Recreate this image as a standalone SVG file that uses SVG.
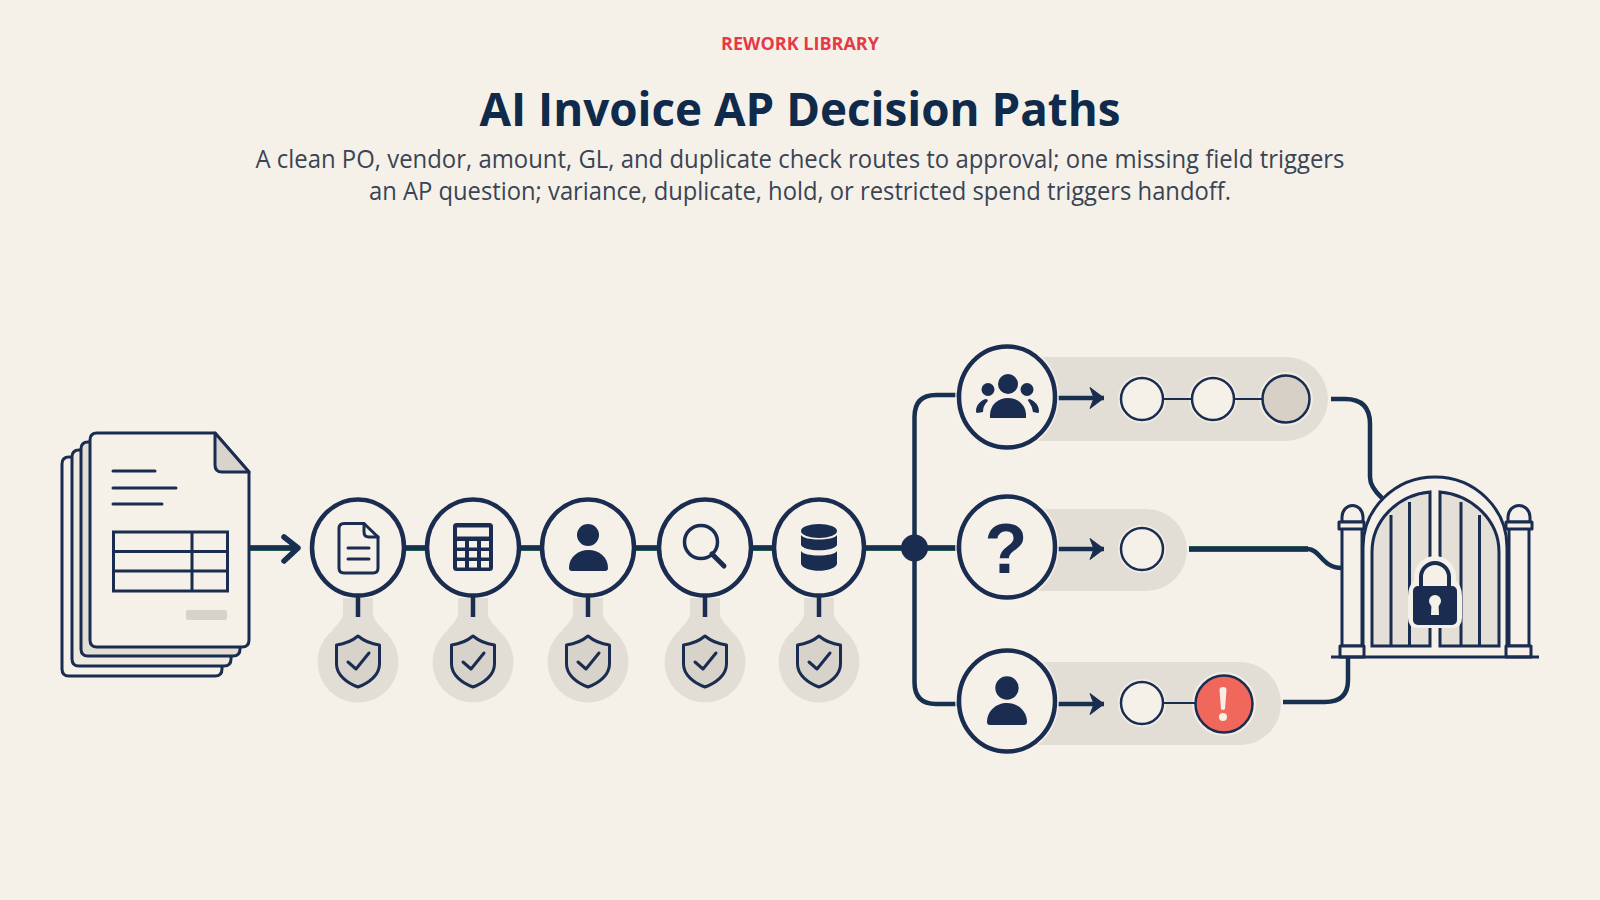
<svg xmlns="http://www.w3.org/2000/svg" width="1600" height="900" viewBox="0 0 1600 900">
<style>
.line{fill:none;stroke:#17304f;stroke-width:4.5;stroke-linecap:butt;stroke-linejoin:round}
.tint{fill:none;stroke:#2b6a52;stroke-width:5.800}
.thin{fill:none;stroke:#1a2d50;stroke-width:2}
.ink{fill:none;stroke:#1a2d50;stroke-width:3;stroke-linejoin:round;stroke-linecap:round}
.solid{fill:#1a2d50;stroke:none}
.ring{fill:#f5f1e9;stroke:#1a2d50;stroke-width:4.500}
.dot{fill:#f5f1e9;stroke:#1a2d50;stroke-width:2.5}
.halo{fill:#f5f1e9;opacity:.75}
.soft{fill:#e3ded5;stroke:none}
.paper{fill:#f5f1e9;stroke:#1a2d50;stroke-width:3;stroke-linejoin:round}
.bar{fill:none;stroke:#1a2d50;stroke-width:3}
text{font-family:"Open Sans","Noto Sans","Liberation Sans",sans-serif;text-anchor:middle}
</style>
<defs>
<marker id="head" markerUnits="userSpaceOnUse" markerWidth="22" markerHeight="26" refX="15" refY="12" orient="auto" overflow="visible">
<path d="M1 1.500 L15 12 L1 22.500 L5 12 Z" fill="#1a2d50" stroke="#1a2d50" stroke-width="1" stroke-linejoin="round"/>
</marker>
<g id="check-badge">
<circle class="soft" cx="0" cy="2" r="40.500"/>
<path class="soft" d="M-15 -62 H15 V-46 Q15 -40 26 -30 H-26 Q-15 -40 -15 -46Z"/>
<path d="M0 -24 C6 -19 14 -16 21.500 -15 V4 C21.500 15 11 23 0 27 C-11 23 -21.500 15 -21.500 4 V-15 C-14 -16 -6 -19 0 -24Z" fill="#d7d2ca" stroke="#1a2d50" stroke-width="3" stroke-linejoin="round"/>
<path d="M-10 2 L-2 9 L11 -7" fill="none" stroke="#1a2d50" stroke-width="3" stroke-linecap="round" stroke-linejoin="round"/>
<path d="M0 -66 V-43" fill="none" stroke="#1a2d50" stroke-width="4.500"/>
</g>
</defs>

<rect width="1600" height="900" fill="#f5f1e9"/>

<text x="800" y="50" font-size="17.500" font-weight="700" fill="#e63946" textLength="158" lengthAdjust="spacingAndGlyphs">REWORK LIBRARY</text>
<text x="800" y="126" font-size="47" font-weight="700" fill="#0f2a4a" textLength="641" lengthAdjust="spacingAndGlyphs">AI Invoice AP Decision Paths</text>
<text x="800" y="168" font-size="25" fill="#3a4454" textLength="1089" lengthAdjust="spacingAndGlyphs">A clean PO, vendor, amount, GL, and duplicate check routes to approval; one missing field triggers</text>
<text x="800" y="200" font-size="25" fill="#3a4454" textLength="862" lengthAdjust="spacingAndGlyphs">an AP question; variance, duplicate, hold, or restricted spend triggers handoff.</text>

<!-- route bands behind the decision rows -->
<g id="bands">
<rect class="soft" x="990" y="357" width="338" height="84" rx="42"/>
<rect class="soft" x="990" y="509" width="197" height="82" rx="41"/>
<rect class="soft" x="990" y="662" width="291" height="83" rx="41"/>
</g>

<g id="connectors">
<path class="tint" d="M249 548 H292 M358 548 H1007 M1189 549 H1308"/>
<path class="line" d="M249 548 H296"/>
<path d="M284 537 L298 548 L284 561" fill="none" stroke="#17304f" stroke-width="5.500" stroke-linecap="round" stroke-linejoin="round"/>
<path class="line" d="M358 548 H1007"/>
<path class="line" d="M1007 395 H936 Q914.500 395 914.500 417 V682 Q914.500 704 936 704 H1007"/>
<path class="line" d="M1058 398 H1104" marker-end="url(#head)"/>
<path class="line" d="M1058 549 H1104" marker-end="url(#head)"/>
<path class="line" d="M1058 704 H1104" marker-end="url(#head)"/>
<path class="line" d="M1331 399 H1345 Q1370 399 1370 424 V477 Q1370 487 1382 498"/>
<path class="line" d="M1189 549 H1308 C1320 549 1322 568 1342 568"/>
<path class="line" d="M1283 702 H1325 Q1348 702 1348 680 V657"/>
</g>

<g id="invoice-stack">
<path d="M100 457 H69 Q62 457 62 464 V669 Q62 676 69 676 H215 Q222 676 222 669 V650 H100Z" fill="#f5f1e9" stroke="#1a2d50" stroke-width="3" stroke-linejoin="round"/>
<path d="M100 450 H79 Q72 450 72 457 V659 Q72 666 79 666 H224 Q231 666 231 659 V640 H100Z" fill="#efe9df" stroke="#1a2d50" stroke-width="3" stroke-linejoin="round"/>
<path d="M100 442 H88 Q81 442 81 449 V649 Q81 656 88 656 H233 Q240 656 240 649 V630 H100Z" fill="#e3ded5" stroke="#1a2d50" stroke-width="3" stroke-linejoin="round"/>
<path class="paper" d="M97 433 H215 L249 472 V640 Q249 647 242 647 H97 Q90 647 90 640 V440 Q90 433 97 433Z"/>
<path d="M215 433 L249 472 H222 Q215 472 215 465Z" fill="#d9d4cb" stroke="#1a2d50" stroke-width="3" stroke-linejoin="round"/>
<path class="ink" d="M113 471 H155 M113 488 H176 M113 504 H162"/>
<rect class="bar" x="113.500" y="532" width="114" height="59" stroke-width="2.500"/>
<path class="bar" d="M113 551.500 H227 M113 571 H227 M192 532 V591" stroke-width="2.500"/>
<rect x="186" y="610" width="41" height="10" rx="2" fill="#d7d2ca"/>
</g>

<g id="check-document">
<use href="#check-badge" x="358" y="660"/>
<ellipse class="ring" cx="358" cy="547.500" rx="46" ry="48"/>
<path class="ink" d="M344 523.500 H364 L378 537 V568 Q378 573 373 573 H344 Q339 573 339 568 V528.500 Q339 523.500 344 523.500Z"/>
<path class="ink" d="M364 523.500 V532 Q364 537 369 537 H378" stroke-width="2.500"/>
<path class="ink" d="M348 548 H369 M348 559 H369" stroke-width="2.500"/>
</g>

<g id="check-amount">
<use href="#check-badge" x="473" y="660"/>
<ellipse class="ring" cx="473" cy="547.500" rx="46" ry="48"/>
<rect class="solid" x="453" y="523" width="40" height="48" rx="3.500"/>
<rect x="457" y="527.500" width="32" height="9" fill="#f5f1e9"/>
<g fill="#f5f1e9">
<rect x="457" y="541" width="8" height="6.500"/><rect x="469" y="541" width="8" height="6.500"/><rect x="481" y="541" width="8" height="6.500"/>
<rect x="457" y="551" width="8" height="6.500"/><rect x="469" y="551" width="8" height="6.500"/><rect x="481" y="551" width="8" height="6.500"/>
<rect x="457" y="561" width="8" height="6.500"/><rect x="469" y="561" width="8" height="6.500"/><rect x="481" y="561" width="8" height="6.500"/>
</g>
</g>

<g id="check-vendor">
<use href="#check-badge" x="588" y="660"/>
<ellipse class="ring" cx="588" cy="547.500" rx="46" ry="48"/>
<circle class="solid" cx="588" cy="535" r="11"/>
<path class="solid" d="M569 568 C569 557 578 550 588.500 550 C599 550 608 557 608 568 Q608 571 605 571 H572 Q569 571 569 568Z"/>
</g>

<g id="check-lookup">
<use href="#check-badge" x="705" y="660"/>
<ellipse class="ring" cx="705" cy="547.500" rx="46" ry="48"/>
<circle cx="701" cy="542" r="16.500" fill="none" stroke="#1a2d50" stroke-width="3.500"/>
<path d="M712 554 L724 566" fill="none" stroke="#1a2d50" stroke-width="5" stroke-linecap="round"/>
</g>

<g id="check-ledger">
<use href="#check-badge" x="819" y="660"/>
<ellipse class="ring" cx="819" cy="547.500" rx="45" ry="48"/>
<ellipse class="solid" cx="819" cy="531" rx="18" ry="7"/>
<path class="solid" d="M801 535 C804 541 834 541 837 535 V545 C834 552 804 552 801 545Z"/>
<path class="solid" d="M801 551 C804 557 834 557 837 551 V564 C834 573 804 573 801 564Z"/>
</g>

<g id="junction"><circle class="solid" cx="914.500" cy="548" r="13.500"/></g>

<g id="team-review">
<ellipse class="halo" cx="1007" cy="397" rx="52" ry="55"/>
<ellipse class="ring" cx="1007" cy="397" rx="48" ry="50.500"/>
<circle class="solid" cx="1008" cy="384" r="10"/>
<circle class="solid" cx="988" cy="389.500" r="6.500"/>
<circle class="solid" cx="1027" cy="389.500" r="6.500"/>
<path class="solid" d="M990 415 C990 405 998 398 1008 398 C1018 398 1026 405 1026 415 V418 H990Z"/>
<path class="solid" d="M976 411 C976 405 981 400 986 399 Q989 400 987 402 Q983 406 983 412 L977 413 Q976 413 976 411Z"/>
<path class="solid" d="M1039 411 C1039 405 1034 400 1029 399 Q1027 400 1029 402 Q1032 406 1033 412 L1038 413 Q1039 413 1039 411Z"/>
<circle class="halo" cx="1142" cy="399" r="24"/>
<circle class="halo" cx="1213" cy="399" r="24"/>
<circle class="halo" cx="1286" cy="399" r="27"/>
<path class="thin" d="M1163 399 H1192 M1234 399 H1262"/>
<circle class="dot" cx="1142" cy="399" r="21"/>
<circle class="dot" cx="1213" cy="399" r="21"/>
<circle cx="1286" cy="399" r="23.500" fill="#d6d0c7" stroke="#1a2d50" stroke-width="2.500"/>
</g>

<g id="ap-question">
<ellipse class="halo" cx="1007" cy="547" rx="52" ry="55"/>
<ellipse class="ring" cx="1007" cy="547" rx="48" ry="50.500"/>
<text x="1006" y="573" font-size="70" font-weight="700" fill="#1a2d50" style="font-family:'Liberation Sans',sans-serif">?</text>
<circle class="halo" cx="1142" cy="549" r="24"/>
<circle class="dot" cx="1142" cy="549" r="21"/>
</g>

<g id="handoff">
<ellipse class="halo" cx="1007" cy="701" rx="52" ry="55"/>
<ellipse class="ring" cx="1007" cy="701" rx="48" ry="50.500"/>
<circle class="solid" cx="1007" cy="688" r="11.700"/>
<path class="solid" d="M987 722 C987 711 996 703 1007 703 C1018 703 1027 711 1027 722 Q1027 725 1024 725 H990 Q987 725 987 722Z"/>
<circle class="halo" cx="1142" cy="703" r="24"/>
<circle class="halo" cx="1224" cy="704" r="32"/>
<path class="thin" d="M1163 703 H1196"/>
<circle class="dot" cx="1142" cy="703" r="21"/>
<circle cx="1224" cy="704" r="28.500" fill="#f0675b" stroke="#1a2d50" stroke-width="2.500"/>
<path d="M1219.500 690 Q1219.500 687 1223 687 Q1226.500 687 1226.500 690 L1225 709 Q1223 711 1221 709Z" fill="#f7efe6"/>
<circle cx="1223" cy="717" r="4" fill="#f7efe6"/>
</g>

<g id="approval-gate">
<path d="M1363 657 V547 A72 70 0 0 1 1507 547 V657" fill="#f5f1e9" stroke="#1a2d50" stroke-width="3"/>
<path d="M1372 646 V552 C1372 520 1398 495 1430 492 V646Z" fill="#e5e0d7" stroke="#1a2d50" stroke-width="3"/>
<path d="M1440 646 V492 C1472 495 1499 520 1499 552 V646Z" fill="#e5e0d7" stroke="#1a2d50" stroke-width="3"/>
<path class="bar" d="M1391 515 V646 M1409.500 502 V646 M1461 502 V646 M1479.500 515 V646" stroke-width="2.500"/>
<!-- posts -->
<rect class="paper" x="1342" y="528" width="20" height="118"/>
<rect class="paper" x="1509" y="528" width="20" height="118"/>
<path class="paper" d="M1342 522 V517 A10.500 11.500 0 0 1 1363 517 V522Z"/>
<path class="paper" d="M1508 522 V517 A11 11.500 0 0 1 1530 517 V522Z"/>
<rect class="paper" x="1339" y="522" width="25" height="7"/>
<rect class="paper" x="1506" y="522" width="26" height="7"/>
<rect class="paper" x="1340" y="646" width="24" height="11"/>
<rect class="paper" x="1506" y="646" width="25" height="11"/>
<path d="M1331 657 H1539" fill="none" stroke="#1a2d50" stroke-width="3"/>
<!-- lock -->
<path d="M1408 596 Q1408 586 1414 581 V577 A21 21 0 0 1 1456 577 V581 Q1462 586 1462 596 V618 Q1462 628 1452 628 H1418 Q1408 628 1408 618Z" fill="#f5f1e9"/>
<path d="M1421 590 V577 A14 14 0 0 1 1449 577 V590" fill="none" stroke="#1a2d50" stroke-width="4"/>
<rect class="solid" x="1413" y="586" width="44" height="39" rx="5"/>
<circle cx="1435" cy="601" r="6" fill="#f5f1e9"/>
<path d="M1431.500 603 H1438.500 L1439 615 H1431Z" fill="#f5f1e9"/>
</g>
</svg>
